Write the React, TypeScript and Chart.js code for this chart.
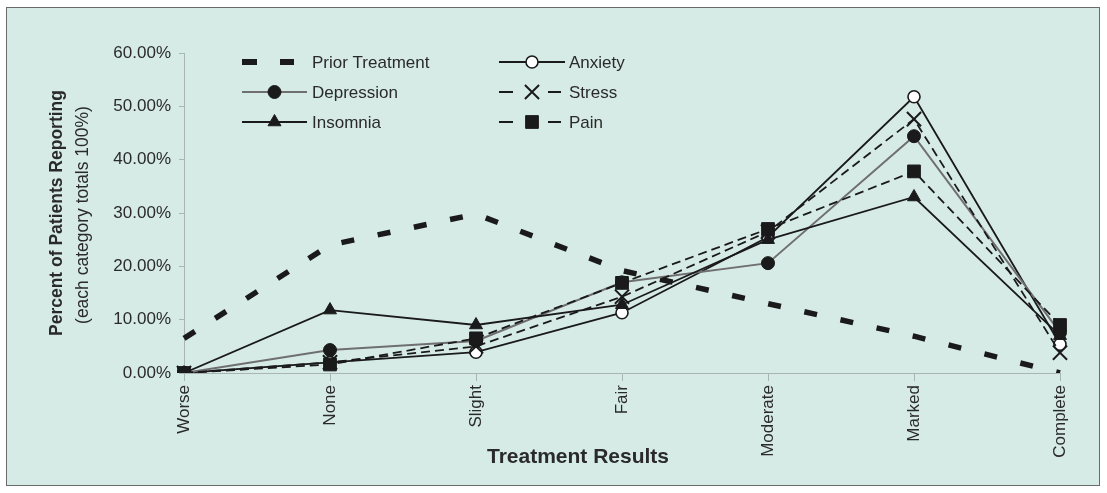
import React, { useEffect, useRef } from 'react';
import { Chart, registerables } from 'chart.js';

Chart.register(...registerables);

// ---------- data ----------
const categories = ['Worse', 'None', 'Slight', 'Fair', 'Moderate', 'Marked', 'Complete'];
const priorTreatment = [6.5, 24, 29.8, 19.2, 13, 6.9, 0];
const anxiety = [0, 2, 3.9, 11.3, 25.5, 51.8, 5.4];
const depression = [0, 4.3, 6, 17, 20.6, 44.4, 7.6];
const stress = [0, 2, 5, 14.3, 26.5, 47.6, 3.8];
const insomnia = [0, 11.8, 9, 12.8, 25, 33, 7];
const pain = [0, 1.6, 6.5, 16.9, 27, 37.8, 9];
const yTickValues = [0, 10, 20, 30, 40, 50, 60];

const seriesNames = ['Prior Treatment', 'Anxiety', 'Depression', 'Stress', 'Insomnia', 'Pain'];
const yTitleMain = 'Percent of Patients Reporting';
const yTitleSub = '(each category totals 100%)';
const xTitle = 'Treatment Results';

// ---------- styles ----------
const FONT = '"Liberation Sans", Arial, Helvetica, sans-serif';
const TEXT = '#2a2a2a';
const INK = '#1a1a1a';
const GREY_LINE = '#6f6f6f';
const AXIS = '#a9b5b1';
const BG = '#d6ebe5';

type Style = {
  color: string;
  width: number;
  dash: number[];
  point: string | false;
  radius: number;
  fill: string;
  pointWidth: number;
};

const styles: Style[] = [
  { color: INK, width: 5.5, dash: [13, 24], point: false, radius: 0, fill: INK, pointWidth: 1 },
  { color: INK, width: 1.8, dash: [], point: 'circle', radius: 6, fill: '#ffffff', pointWidth: 1.6 },
  { color: GREY_LINE, width: 2, dash: [], point: 'circle', radius: 6.5, fill: INK, pointWidth: 1 },
  { color: INK, width: 1.8, dash: [9, 5], point: 'crossRot', radius: 10, fill: INK, pointWidth: 2 },
  { color: INK, width: 1.8, dash: [], point: 'triangle', radius: 7.5, fill: INK, pointWidth: 1 },
  { color: INK, width: 1.8, dash: [9, 5], point: 'rect', radius: 9, fill: INK, pointWidth: 1 },
];

const seriesData = [priorTreatment, anxiety, depression, stress, insomnia, pain];

function drawMarker(ctx: CanvasRenderingContext2D, s: Style, x: number, y: number) {
  if (!s.point) return;
  const r = s.radius;
  ctx.save();
  ctx.setLineDash([]);
  ctx.fillStyle = s.fill;
  ctx.strokeStyle = INK;
  ctx.lineWidth = s.pointWidth;
  ctx.beginPath();
  if (s.point === 'circle') {
    ctx.arc(x, y, r, 0, Math.PI * 2);
    ctx.fill();
    ctx.stroke();
  } else if (s.point === 'triangle') {
    ctx.moveTo(x, y - r);
    ctx.lineTo(x + r * 0.866, y + r * 0.5);
    ctx.lineTo(x - r * 0.866, y + r * 0.5);
    ctx.closePath();
    ctx.fill();
    ctx.stroke();
  } else if (s.point === 'rect') {
    const h = r * Math.SQRT1_2;
    ctx.rect(x - h, y - h, 2 * h, 2 * h);
    ctx.fill();
    ctx.stroke();
  } else if (s.point === 'crossRot') {
    const h = r * Math.SQRT1_2;
    ctx.moveTo(x - h, y - h);
    ctx.lineTo(x + h, y + h);
    ctx.moveTo(x + h, y - h);
    ctx.lineTo(x - h, y + h);
    ctx.stroke();
  }
  ctx.restore();
}

const legendLayout = [
  { idx: 0, col: 0, row: 0 },
  { idx: 1, col: 1, row: 0 },
  { idx: 2, col: 0, row: 1 },
  { idx: 3, col: 1, row: 1 },
  { idx: 4, col: 0, row: 2 },
  { idx: 5, col: 1, row: 2 },
];

const decorPlugin = {
  id: 'decor',
  afterDraw(chart: any) {
    const ctx: CanvasRenderingContext2D = chart.ctx;
    const area = chart.chartArea;
    ctx.save();
    // axis titles
    ctx.fillStyle = TEXT;
    ctx.textAlign = 'center';
    ctx.textBaseline = 'middle';
    const cy = (area.top + area.bottom) / 2;
    ctx.save();
    ctx.translate(50, cy);
    ctx.rotate(-Math.PI / 2);
    ctx.font = `bold 17.5px ${FONT}`;
    ctx.fillText(yTitleMain, 0, 0);
    ctx.restore();
    ctx.save();
    ctx.translate(76, cy + 2);
    ctx.rotate(-Math.PI / 2);
    ctx.font = `17.5px ${FONT}`;
    ctx.fillText(yTitleSub, 0, 0);
    ctx.restore();
    ctx.font = `bold 21px ${FONT}`;
    ctx.fillText(xTitle, 571, 449);

    // legend
    const rowsY = [54, 84, 114];
    const cols = [
      { x1: 235, x2: 300, text: 305 },
      { x1: 492, x2: 558, text: 562 },
    ];
    ctx.font = `17px ${FONT}`;
    ctx.textAlign = 'left';
    for (const item of legendLayout) {
      const s = styles[item.idx];
      const c = cols[item.col];
      const y = rowsY[item.row];
      const mid = (c.x1 + c.x2) / 2;
      ctx.save();
      ctx.strokeStyle = s.color;
      ctx.lineWidth = s.width;
      ctx.lineCap = 'butt';
      ctx.beginPath();
      if (item.idx === 0) {
        ctx.lineWidth = 6;
        ctx.moveTo(c.x1, y);
        ctx.lineTo(c.x1 + 15, y);
        ctx.moveTo(c.x1 + 38, y);
        ctx.lineTo(c.x1 + 52, y);
      } else if (s.dash.length) {
        ctx.moveTo(c.x1, y);
        ctx.lineTo(c.x1 + 14, y);
        ctx.moveTo(c.x2 - 17, y);
        ctx.lineTo(c.x2 - 4, y);
      } else {
        ctx.moveTo(c.x1, y);
        ctx.lineTo(c.x2, y);
      }
      ctx.stroke();
      ctx.restore();
      drawMarker(ctx, s, mid, y);
      ctx.fillStyle = TEXT;
      ctx.textBaseline = 'middle';
      ctx.fillText(seriesNames[item.idx], c.text, y + 1);
    }
    ctx.restore();
  },
};

export default function App() {
  const ref = useRef<HTMLCanvasElement | null>(null);
  useEffect(() => {
    if (!ref.current) return;
    const n = seriesData.length;
    const datasets = seriesData.map((d, i) => {
      const s = styles[i];
      return {
        label: seriesNames[i],
        data: d,
        order: n - 1 - i,
        borderColor: s.color,
        borderWidth: s.width,
        borderDash: s.dash,
        borderCapStyle: 'butt' as const,
        tension: 0,
        fill: false,
        pointStyle: s.point === false ? 'circle' : s.point,
        pointRadius: s.radius,
        pointBackgroundColor: s.fill,
        pointBorderColor: INK,
        pointBorderWidth: s.pointWidth,
      };
    });
    const chart = new Chart(ref.current, {
      type: 'line',
      data: { labels: categories, datasets: datasets as any },
      options: {
        responsive: false,
        animation: false,
        events: [],
        layout: { padding: { left: 0, right: 39, top: 45, bottom: 0 } },
        plugins: { legend: { display: false }, tooltip: { enabled: false } },
        scales: {
          x: {
            offset: false,
            afterFit: (scale: any) => {
              scale.height = 112;
            },
            grid: {
              display: true,
              drawOnChartArea: false,
              drawTicks: true,
              tickLength: 8,
              color: AXIS,
            },
            border: { display: true, color: AXIS, width: 1 },
            ticks: {
              minRotation: 90,
              maxRotation: 90,
              autoSkip: false,
              padding: 4,
              color: TEXT,
              font: { family: FONT, size: 17 },
            },
          },
          y: {
            min: 0,
            max: 60,
            afterFit: (scale: any) => {
              scale.width = 177;
            },
            afterBuildTicks: (scale: any) => {
              scale.ticks = yTickValues.map((v) => ({ value: v }));
            },
            grid: {
              display: true,
              drawOnChartArea: false,
              drawTicks: true,
              tickLength: 5,
              color: AXIS,
            },
            border: { display: true, color: AXIS, width: 1 },
            ticks: {
              padding: 8,
              color: TEXT,
              font: { family: FONT, size: 17 },
              callback: (v: any) => Number(v).toFixed(2) + '%',
            },
          },
        },
      },
      plugins: [decorPlugin],
    });
    return () => chart.destroy();
  }, []);

  return (
    <div
      style={{
        position: 'absolute',
        left: 6,
        top: 7,
        width: 1092,
        height: 477,
        border: '1px solid #6a6a6a',
        background: BG,
      }}
    >
      <canvas ref={ref} width={1092} height={477} style={{ display: 'block' }} />
    </div>
  );
}
